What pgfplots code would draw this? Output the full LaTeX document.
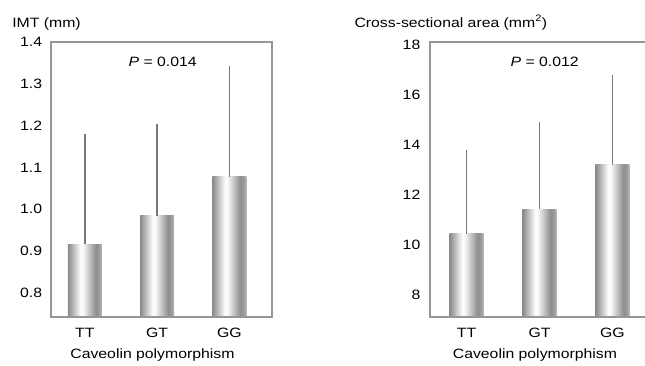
\documentclass[border=0pt]{standalone}
\usepackage{fontspec}
\setmainfont{Liberation Sans}[FakeStretch=1.17]
\usepackage{pgfplots}
\pgfplotsset{compat=1.18}
\definecolor{boxgray}{RGB}{150,150,150}
\definecolor{errgray}{RGB}{120,120,120}
\definecolor{sA}{RGB}{138,138,138}
\definecolor{sB}{RGB}{162,162,162}
\definecolor{sC}{RGB}{248,248,248}
\definecolor{sD}{RGB}{142,142,142}
\definecolor{sE}{RGB}{155,155,155}
\definecolor{sF}{RGB}{185,185,185}
\pgfdeclarehorizontalshading{barshade}{100bp}{color(0bp)=(sA); color(25bp)=(sA); color(29bp)=(sB); color(44bp)=(white); color(47.5bp)=(sC); color(66bp)=(sD); color(71bp)=(sE); color(75bp)=(sF); color(100bp)=(sF)}
\pgfplotsset{
  barstyle/.style={ybar, bar width=34bp, bar shift=0pt, draw=none, shading=barshade,
    error bars/.cd, y dir=plus, y explicit, error mark=none,
    error bar style={color=errgray, line width=1.7bp}},
  common/.style={
    scale only axis, anchor=south west,
    axis on top, clip=true,
    axis line style={boxgray, line width=1.3bp},
    major tick length=0pt,
    xtick={0,1,2}, xticklabels={TT,GT,GG},
    font=\fontsize{13.5bp}{15bp}\selectfont,
    /pgf/number format/assume math mode=true,
    xticklabel style={anchor=base, inner sep=0pt, yshift=-20.3bp},
    yticklabel style={anchor=east, inner sep=0pt},
  }
}
\begin{document}
\begin{tikzpicture}
\useasboundingbox (0,-366bp) rectangle (645bp,0);
% Left panel
\begin{axis}[common,
  at={(51bp,-317bp)}, width=221bp, height=275bp,
  xmin=-0.468, xmax=2.59, ymin=0.742, ymax=1.4,
  ytick={0.8,0.9,1.0,1.1,1.2,1.3,1.4},
  yticklabel style={xshift=-8.7bp, /pgf/number format/.cd, fixed, fixed zerofill, precision=1},
  xlabel={Caveolin polymorphism},
  xlabel style={at={(axis description cs:0.459,0)}, anchor=base, inner sep=0pt, yshift=-41bp},
  ylabel={IMT (mm)},
  ylabel style={rotate=-90, at={(axis description cs:-0.176,1.0545)}, anchor=base west, inner sep=0pt},
]
\addplot[barstyle] coordinates {(0,0.916) +- (0,0.264)};
\addplot[barstyle] coordinates {(1,0.984) +- (0,0.220)};
\addplot[barstyle] coordinates {(2,1.077) +- (0,0.265)};
\node[anchor=base, inner sep=0pt] at (axis description cs:0.505,0.910) {{\itshape P} = 0.014};
\end{axis}
% Right panel (box runs past the right edge, as in the reference)
\begin{axis}[common,
  at={(430bp,-317bp)}, width=220bp, height=275bp,
  xmin=-0.50, xmax=2.514, ymin=7.1, ymax=18.1,
  ytick={8,10,12,14,16,18},
  yticklabel style={xshift=-9.5bp},
  xlabel={Caveolin polymorphism},
  xlabel style={at={(axis description cs:0.477,0)}, anchor=base, inner sep=0pt, yshift=-41bp},
  ylabel={Cross-sectional area (mm\textsuperscript{2})},
  ylabel style={rotate=-90, at={(axis description cs:-0.344,1.0545)}, anchor=base west, inner sep=0pt},
]
\addplot[barstyle] coordinates {(0,10.44) +- (0,3.36)};
\addplot[barstyle] coordinates {(1,11.42) +- (0,3.50)};
\addplot[barstyle] coordinates {(2,13.19) +- (0,3.61)};
\node[anchor=base, inner sep=0pt] at (axis description cs:0.521,0.910) {{\itshape P} = 0.012};
\end{axis}
\end{tikzpicture}
\end{document}
